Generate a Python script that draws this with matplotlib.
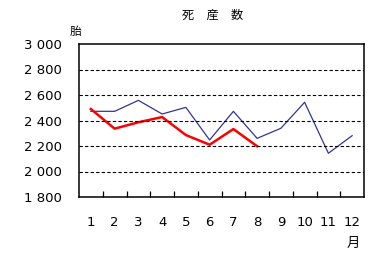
import matplotlib
matplotlib.use("Agg")
import matplotlib.pyplot as plt
from matplotlib.ticker import FixedLocator

plt.rcParams['font.family'] = ['Noto Sans CJK JP', 'DejaVu Sans']

months = [1, 2, 3, 4, 5, 6, 7, 8, 9, 10, 11, 12]
month_labels = [str(m) for m in months]
prev_year = [2472, 2472, 2558, 2451, 2503, 2247, 2472, 2260, 2339, 2543, 2143, 2281]
this_year = [2490, 2336, 2386, 2427, 2286, 2210, 2333, 2198]
y_ticks = [1800, 2000, 2200, 2400, 2600, 2800, 3000]
y_labels = ["1 800", "2 000", "2 200", "2 400", "2 600", "2 800", "3 000"]

fig = plt.figure(figsize=(3.83, 2.73), dpi=100)
ax = fig.add_axes([79 / 383, 76 / 273, 285 / 383, 153 / 273])

ax.plot(months, prev_year, color="#333399", lw=0.9)
ax.plot(months[:len(this_year)], this_year, color="#ff0000", lw=1.8)

ax.set_xlim(0.5, 12.5)
ax.set_ylim(1800, 3000)
ax.set_xticks(months)
ax.set_xticklabels(month_labels, family="DejaVu Sans")
ax.xaxis.set_minor_locator(FixedLocator([m + 0.5 for m in months[:-1]]))
ax.tick_params(axis="x", which="major", length=0, pad=14, labelsize=9.5)
ax.tick_params(axis="x", which="minor", direction="in", length=4.5, width=0.9)
ax.set_yticks(y_ticks)
ax.set_yticklabels(y_labels, family="DejaVu Sans")
ax.tick_params(axis="y", length=0, pad=12, labelsize=9.5)

for v in y_ticks[1:-1]:
    ax.axhline(v, color="black", lw=0.8, ls=(0, (3, 2)))

for s in ax.spines.values():
    s.set_linewidth(1.1)

# full-width spaces give the wide letter spacing of the title
fig.text(213 / 383, 1 - 15 / 273, "死　産　数", ha="center", va="center", fontsize=8.8)
fig.text(75 / 383, 1 - 31 / 273, "胎", ha="center", va="center", fontsize=8.5)
fig.text(353 / 383, 1 - 243 / 273, "月", ha="center", va="center", fontsize=9.5)

fig.savefig("out.png", dpi=100)
